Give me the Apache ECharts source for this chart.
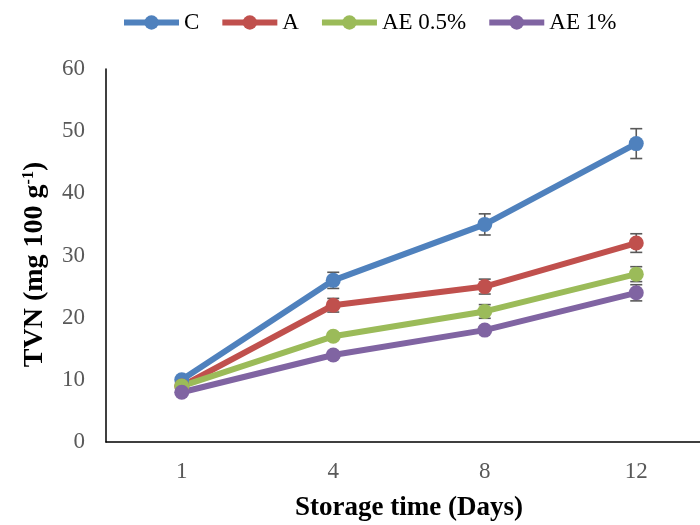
<!DOCTYPE html>
<html>
<head>
<meta charset="utf-8">
<script src="https://cdn.jsdelivr.net/npm/echarts@6/dist/echarts.min.js"></script>
<style>html,body{margin:0;padding:0;background:#fff;overflow:hidden}#c{width:712px;height:525px}</style>
</head>
<body>
<div id="c"></div>
<script>
const categories = ['1', '4', '8', '12'];
const seriesNames = ['C', 'A', 'AE 0.5%', 'AE 1%'];
const valuesC = [10, 26, 35, 48];
const valuesA = [9, 22, 25, 32];
const valuesAE05 = [9, 17, 21, 27];
const valuesAE1 = [8, 14, 18, 24];
const errC = [0.3, 1.3, 1.7, 2.4];
const errA = [0.3, 1.1, 1.2, 1.5];
const errAE05 = [0.3, 0.5, 1.1, 1.2];
const errAE1 = [0.3, 0.5, 0.5, 1.3];
const yTicks = [0, 10, 20, 30, 40, 50, 60];

const colors = ['#4F81BD', '#C0504D', '#9BBB59', '#8064A2'];
const allValues = [valuesC, valuesA, valuesAE05, valuesAE1];
const allErr = [errC, errA, errAE05, errAE1];
const FONT = '"Liberation Serif", "Times New Roman", serif';

const chart = echarts.init(document.getElementById('c'), null, {renderer: 'canvas'});

const lineSeries = seriesNames.map((n, i) => ({
  name: n,
  type: 'line',
  data: allValues[i],
  symbol: 'circle',
  symbolSize: 15,
  lineStyle: {width: 6, color: colors[i]},
  itemStyle: {color: colors[i]},
  z: 3,
  animation: false
}));

const errSeries = seriesNames.map((n, i) => ({
  type: 'custom',
  name: n + ' err',
  z: 2,
  animation: false,
  silent: true,
  data: allValues[i].map((v, j) => [j, v - allErr[i][j], v + allErr[i][j]]),
  renderItem: function (params, api) {
    const x = api.value(0);
    const lo = api.coord([x, api.value(1)]);
    const hi = api.coord([x, api.value(2)]);
    const hw = 6;
    const st = {stroke: '#595959', lineWidth: 1.6};
    return {
      type: 'group',
      children: [
        {type: 'line', shape: {x1: lo[0], y1: lo[1], x2: hi[0], y2: hi[1]}, style: st},
        {type: 'line', shape: {x1: lo[0] - hw, y1: lo[1], x2: lo[0] + hw, y2: lo[1]}, style: st},
        {type: 'line', shape: {x1: hi[0] - hw, y1: hi[1], x2: hi[0] + hw, y2: hi[1]}, style: st}
      ]
    };
  }
}));

chart.setOption({
  backgroundColor: '#fff',
  animation: false,
  legend: {
    data: seriesNames,
    top: 6,
    left: 116,
    itemWidth: 55,
    itemHeight: 18,
    itemGap: 20,
    lineStyle: {width: 6},
    textStyle: {fontFamily: FONT, fontSize: 23, color: '#000'}
  },
  grid: {left: 106, right: 0, top: 69, bottom: 83, containLabel: false, outerBoundsMode: 'none'},
  xAxis: {
    type: 'category',
    data: categories,
    boundaryGap: true,
    axisLine: {lineStyle: {color: '#000', width: 1.5}},
    axisTick: {show: false},
    axisLabel: {fontFamily: FONT, fontSize: 23, color: '#595959', margin: 18},
    name: 'Storage time (Days)',
    nameLocation: 'middle',
    nameGap: 53,
    nameTextStyle: {fontFamily: FONT, fontSize: 27, fontWeight: 'bold', color: '#000'}
  },
  yAxis: {
    type: 'value',
    min: yTicks[0],
    max: yTicks[yTicks.length - 1],
    interval: 10,
    axisLine: {show: true, lineStyle: {color: '#000', width: 1.5}},
    axisTick: {show: false},
    splitLine: {show: false},
    axisLabel: {fontFamily: FONT, fontSize: 23, color: '#595959', margin: 21},
    name: '{m|TVN (mg 100 g}{s|-1}{m|)}',
    nameLocation: 'middle',
    nameGap: 57,
    nameTextStyle: {
      fontFamily: FONT, fontSize: 28, fontWeight: 'bold', color: '#000',
      padding: [0, 18, 0, 0],
      rich: {
        m: {fontFamily: FONT, fontSize: 28, fontWeight: 'bold', color: '#000'},
        s: {fontFamily: FONT, fontSize: 16, fontWeight: 'bold', color: '#000', verticalAlign: 'top', padding: [0, 0, 10, 0]}
      }
    }
  },
  series: errSeries.concat(lineSeries)
});
</script>
</body>
</html>
